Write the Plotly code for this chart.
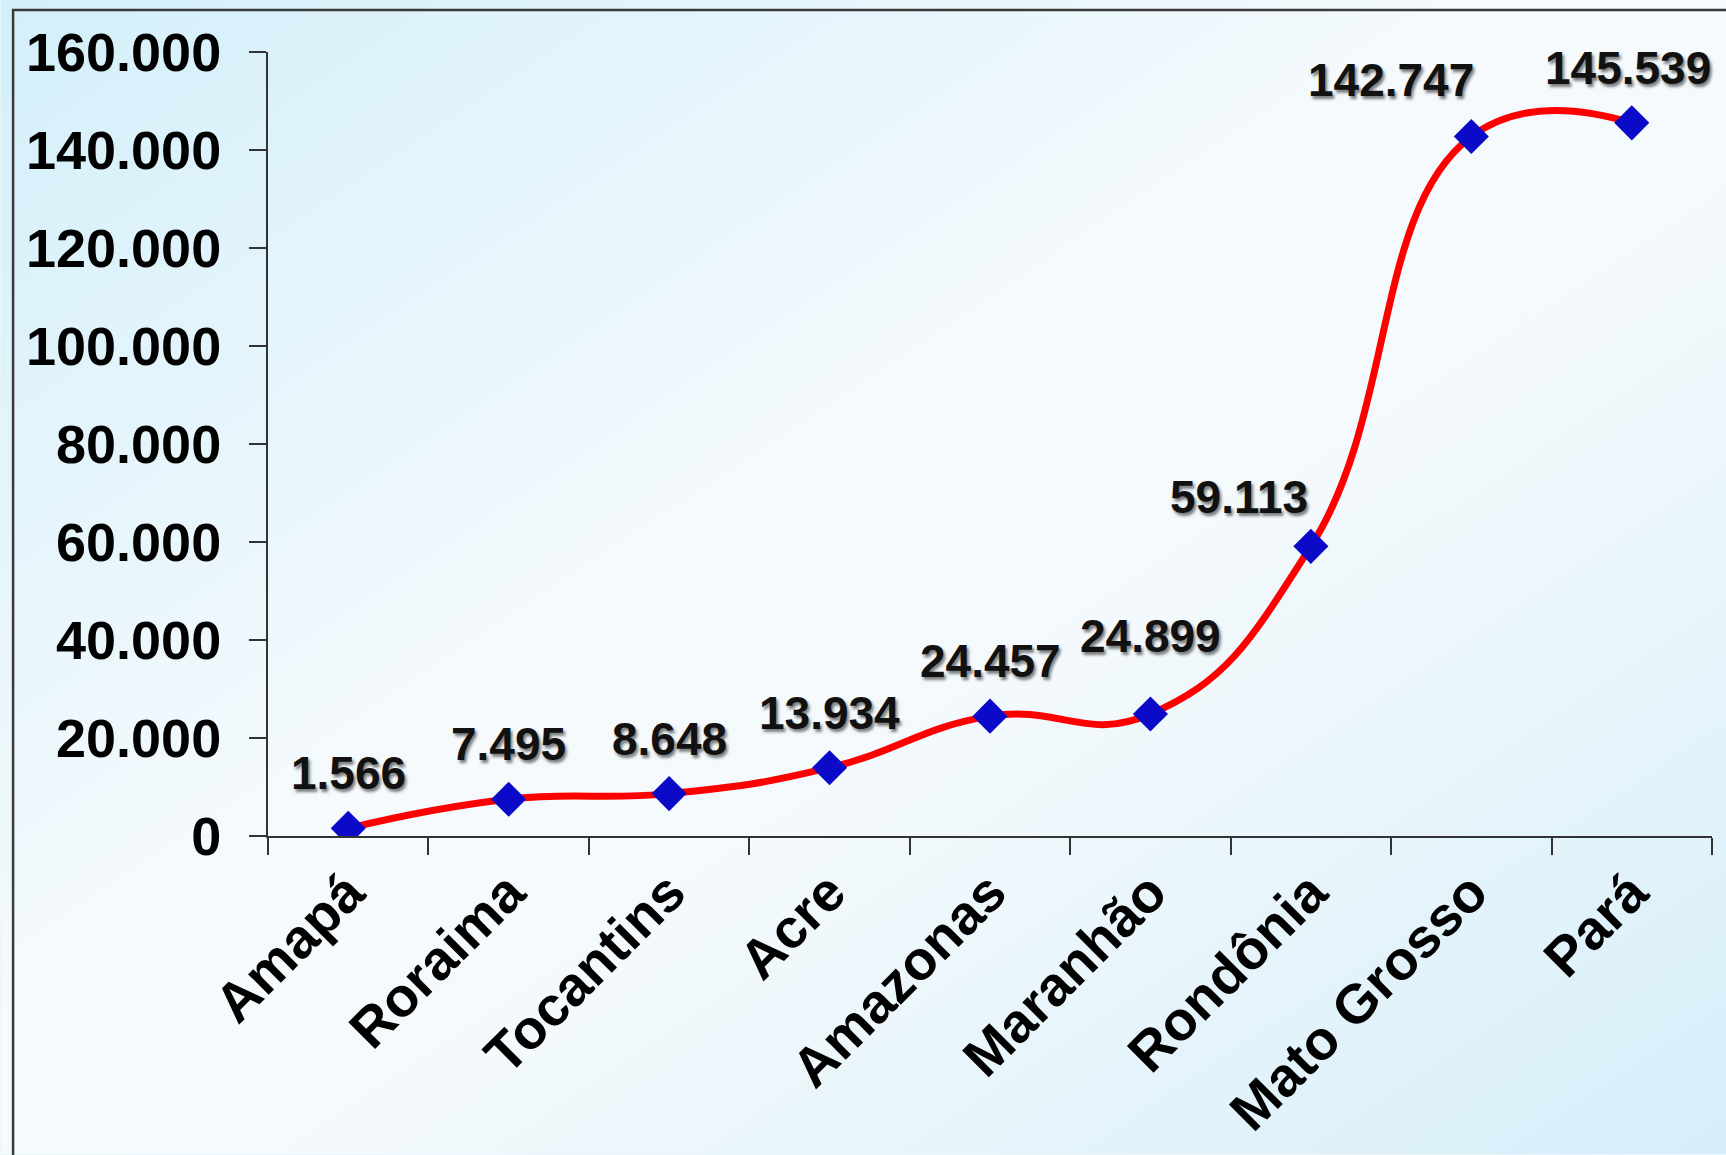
import base64
import plotly.graph_objects as go

# ---- data ----
states = ["Amapá", "Roraima", "Tocantins", "Acre", "Amazonas",
          "Maranhão", "Rondônia", "Mato Grosso", "Pará"]
values = [1566, 7495, 8648, 13934, 24457, 24899, 59113, 142747, 145539]
y_ticks = [0, 20000, 40000, 60000, 80000, 100000, 120000, 140000, 160000]

# label offsets (px) for data labels
label_dx = [0, 0, 0, 0, 0, 0, -72, -80, -4]
label_dy = [55, 55, 55, 55, 55, 78, 49, 57, 55]

W, H = 1726, 1155
L, R, T, B = 267.5, 14, 52, 318.5
pw, ph = W - L - R, H - T - B

FONT = "Arial, 'Liberation Sans', sans-serif"

def fmt(v):
    return f"{v:,}".replace(",", ".")

# background gradient as svg image
svg = f'''<svg xmlns="http://www.w3.org/2000/svg" width="{W}" height="{H}" viewBox="0 0 {W} {H}">
<defs><linearGradient id="g" x1="0" y1="0" x2="1" y2="1">
<stop offset="0" stop-color="#D3EFFA"/>
<stop offset="0.45" stop-color="#F6FAFD"/>
<stop offset="0.6" stop-color="#F3F9FC"/>
<stop offset="1" stop-color="#D6EEF9"/>
</linearGradient></defs>
<rect width="{W}" height="{H}" fill="url(#g)"/></svg>'''
svg_uri = "data:image/svg+xml;base64," + base64.b64encode(svg.encode()).decode()

fig = go.Figure()
fig.add_trace(go.Scatter(
    x=states, y=values, mode="lines+markers",
    line=dict(color="#FF0000", width=7, shape="spline", smoothing=1.3),
    marker=dict(symbol="diamond", size=27, color="#0A0AC8",
                line=dict(width=0)),
    hoverinfo="skip", showlegend=False,
))

for s, v, dx, dy in zip(states, values, label_dx, label_dy):
    fig.add_annotation(
        x=s, y=v, xref="x", yref="y", text=fmt(v), showarrow=False,
        xshift=dx, yshift=dy,
        font=dict(family=FONT, size=46, color="#111111", weight="bold",
                  shadow="2px 3px 3px rgba(0,0,0,0.5)"),
    )

# outer frame
fig.add_shape(type="rect", xref="paper", yref="paper",
              x0=(12.5 - L) / pw, x1=1.3, y0=-1.0, y1=(H - B - 10) / ph,
              line=dict(color="#3A3A3A", width=2.5), fillcolor="rgba(0,0,0,0)",
              layer="above")

fig.add_layout_image(dict(
    source=svg_uri, xref="paper", yref="paper",
    x=-L / pw, y=1 + T / ph, sizex=W / pw, sizey=H / ph,
    xanchor="left", yanchor="top", sizing="stretch", layer="below",
))

fig.update_layout(
    width=W, height=H,
    margin=dict(l=L, r=R, t=T, b=B, autoexpand=False),
    paper_bgcolor="#EAF6FB", plot_bgcolor="rgba(0,0,0,0)",
    separators=",.",
    showlegend=False,
    font=dict(family=FONT, color="#000000"),
)
fig.update_xaxes(
    type="category", range=[-0.5, len(states) - 0.5],
    tickson="boundaries", ticks="outside", ticklen=17, tickwidth=2,
    tickcolor="#333333", showline=True, linecolor="#333333", linewidth=2,
    showgrid=False, zeroline=False, tickangle=-45, automargin=False,
    tickfont=dict(family=FONT, size=55, color="#000000", weight="bold"),
)
fig.update_yaxes(
    range=[0, 160000], tickvals=y_ticks, tickformat=",d",
    ticks="outside", ticklen=17, tickwidth=2, tickcolor="#333333",
    showline=True, linecolor="#333333", linewidth=2,
    showgrid=False, zeroline=False, automargin=False,
    ticklabelstandoff=17,
    tickfont=dict(family=FONT, size=54, color="#000000", weight="bold"),
)

fig.write_html("out.html", config={"displayModeBar": False},
               post_script="document.body.style.margin='0';document.body.style.overflow='hidden';")
